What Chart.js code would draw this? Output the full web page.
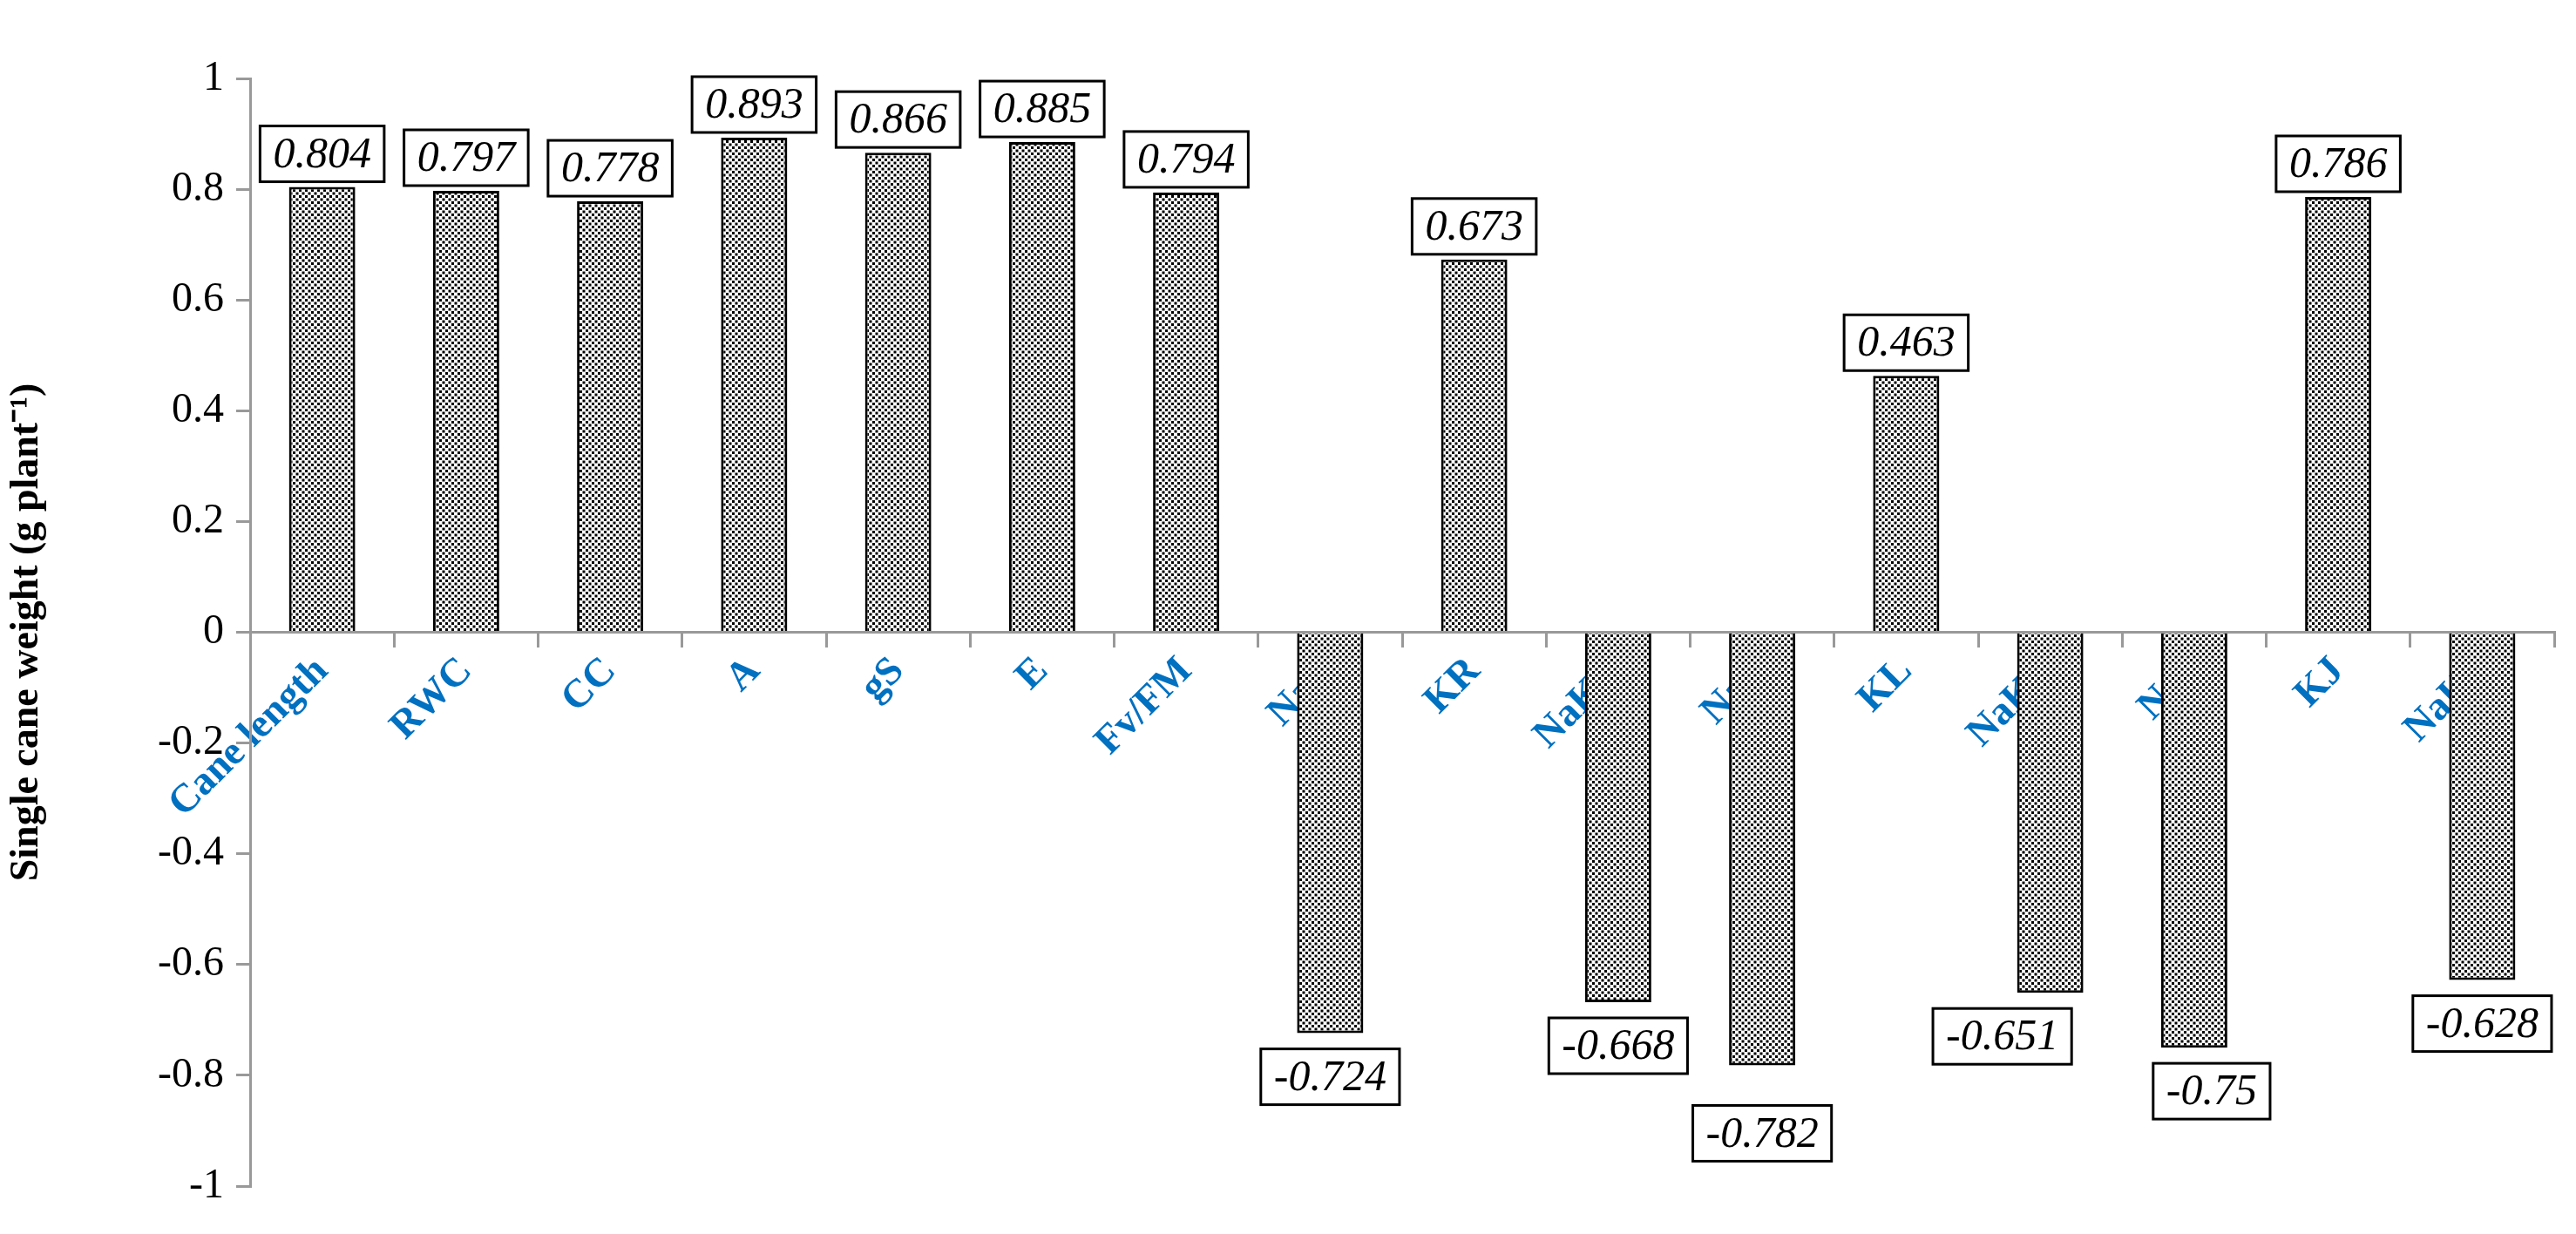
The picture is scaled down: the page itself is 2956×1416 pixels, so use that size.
<!DOCTYPE html>
<html><head><meta charset="utf-8">
<script src="https://cdn.jsdelivr.net/npm/chart.js@4.4.0/dist/chart.umd.min.js"></script>
<style>html,body{margin:0;padding:0;background:#fff}#w{width:2956px;height:1416px}</style>
</head><body><div id="w"><canvas id="c"></canvas></div>
<script>
const categories = ["Cane length","RWC","CC","A","gS","E","Fv/FM","NaR","KR","NaKR","NaL","KL","NaKL","NaJ","KJ","NaKJ"];
const values = [0.804,0.797,0.778,0.893,0.866,0.885,0.794,-0.724,0.673,-0.668,-0.782,0.463,-0.651,-0.75,0.786,-0.628];
const valueLabels = ["0.804","0.797","0.778","0.893","0.866","0.885","0.794","-0.724","0.673","-0.668","-0.782","0.463","-0.651","-0.75","0.786","-0.628"];
const yTicks = [-1,-0.8,-0.6,-0.4,-0.2,0,0.2,0.4,0.6,0.8,1];

function dotPattern(){
  const p=document.createElement('canvas');p.width=7;p.height=7;
  const g=p.getContext('2d');g.fillStyle='#fff';g.fillRect(0,0,7,7);
  g.fillStyle='#000';g.fillRect(0,0,3,3);g.fillRect(3.5,3.5,3,3);
  return document.getElementById('c').getContext('2d').createPattern(p,'repeat');
}
const labelShift = {12:-55, 13:20};
const boxPlugin = {
  id:'boxes',
  afterDraw(chart){
    const ctx=chart.ctx, meta=chart.getDatasetMeta(0);
    ctx.save();
    ctx.font='italic 50px "Liberation Serif"';
    ctx.textAlign='center';ctx.textBaseline='middle';
    meta.data.forEach((bar,i)=>{
      const v=values[i], t=valueLabels[i];
      const w=ctx.measureText(t).width+30, h=64;
      const cx=bar.x+(labelShift[i]||0);
      let top = v>=0 ? bar.y-h-6 : bar.y+18;
      if(i===10) top+=28;
      ctx.fillStyle='#fff';ctx.fillRect(cx-w/2,top,w,h);
      ctx.strokeStyle='#000';ctx.lineWidth=3;ctx.strokeRect(cx-w/2,top,w,h);
      ctx.fillStyle='#000';ctx.fillText(t,cx,top+h/2+2);
    });
    ctx.restore();
  }
};
new Chart(document.getElementById('c'),{
  type:'bar',
  data:{labels:categories,datasets:[{data:values,backgroundColor:dotPattern(),borderColor:'#000',borderWidth:3,barPercentage:0.46,categoryPercentage:1}]},
  options:{
    responsive:true,maintainAspectRatio:false,animation:false,
    layout:{padding:{top:90,bottom:55,right:25,left:0}},
    plugins:{legend:{display:false},tooltip:{enabled:false}},
    scales:{
      x:{position:{y:0},z:1,
        grid:{drawOnChartArea:false,drawTicks:true,tickLength:16,color:'#999',lineWidth:3},
        border:{color:'#999',width:3},
        ticks:{color:'#0070C0',font:{family:'"Liberation Serif"',weight:'bold',size:46},maxRotation:45,minRotation:45,padding:2}},
      y:{min:-1,max:1,
        afterFit(s){s.width=287;},
        afterBuildTicks(s){s.ticks=yTicks.map(v=>({value:v}));},
        grid:{drawOnChartArea:false,drawTicks:true,tickLength:16,color:'#999',lineWidth:3},
        border:{color:'#999',width:3},
        ticks:{color:'#000',font:{family:'"Liberation Serif"',size:48},padding:14,callback:v=>String(Math.round(v*10)/10)},
        title:{display:true,text:'Single cane weight (g plant\u207B\u00B9)',color:'#000',font:{family:'"Liberation Serif"',weight:'bold',size:46},padding:{bottom:4}}}
    }
  },
  plugins:[boxPlugin]
});
</script></body></html>
